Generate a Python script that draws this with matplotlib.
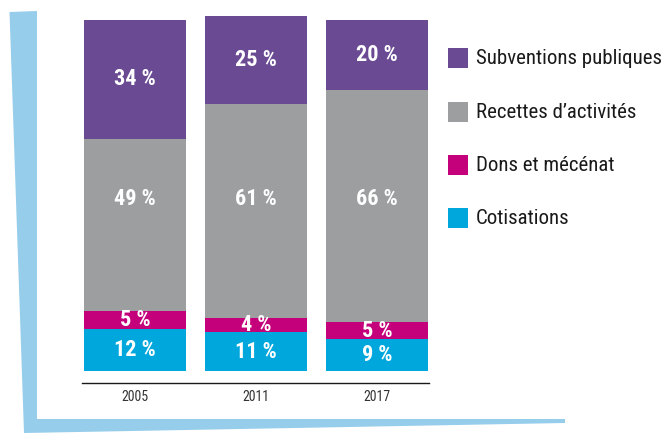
import matplotlib.pyplot as plt
from matplotlib.patches import Polygon, Rectangle
import numpy as np

years = ["2005", "2011", "2017"]
categories = ["Cotisations", "Dons et mécénat", "Recettes d’activités", "Subventions publiques"]
cotisations = [12, 11, 9]
dons = [5, 4, 5]
recettes = [49, 61, 66]
subventions = [34, 25, 20]

colors = ["#00a7dd", "#c4007a", "#9d9ea0", "#6a4a93"]
plt.rcParams["font.family"] = ["Roboto Condensed", "Archivo Narrow", "DejaVu Sans"]

W, H = 669, 433
fig = plt.figure(figsize=(W / 100, H / 100), dpi=100)

# light blue decorative corner frame (pixel coords, y from top)
frame = [(9.5, 12), (37, 11), (37, 419), (565, 419), (565, 423), (24, 433)]
fig.add_artist(Polygon([(x / W, 1 - y / H) for x, y in frame], closed=True,
                       facecolor="#96cdeb", edgecolor="none",
                       transform=fig.transFigure))

# axes placed so that the baseline runs from x=82 to x=429 at y=383
ax = fig.add_axes([82 / W, 1 - 383 / H, (429 - 82) / W, (383 - 13) / H])
x = np.arange(len(years))
width = 102 / 121

series = [cotisations, dons, recettes, subventions]
bottom = np.zeros(len(years))
for i, (vals, col) in enumerate(zip(series, colors)):
    vals = np.array(vals, dtype=float)
    ax.bar(x, vals, width, bottom=bottom, color=col, linewidth=0)
    for xi, b, v in zip(x, bottom, vals):
        # the big grey labels sit on one common line in the original
        ly = 49 if i == 2 else b + v / 2
        ax.text(xi, ly, f"{int(v)} %", ha="center", va="center",
                color="white", fontsize=16, fontweight="bold")
    bottom += vals

ax.set_xlim(-width / 2 - 2 / 121, 2 + width / 2 + 1 / 121)
ax.set_ylim(-12 / 3.53, 100 + 5 / 3.53 + 0.5)
for s in ["top", "left", "right"]:
    ax.spines[s].set_visible(False)
ax.spines["bottom"].set_linewidth(1.0)
ax.spines["bottom"].set_color("#1a1a1a")
ax.set_yticks([])
ax.set_xticks(x)
ax.set_xticklabels(years, fontsize=10, color="#333333")
ax.tick_params(axis="x", length=0, pad=5)

# legend (top to bottom)
rows_y = [58, 112, 165, 218]
for yy, cat, col in zip(rows_y, categories[::-1], colors[::-1]):
    fig.add_artist(Rectangle((448 / W, 1 - (yy + 10) / H), 20 / W, 20 / H,
                             facecolor=col, edgecolor="none",
                             transform=fig.transFigure))
    fig.text(476 / W, 1 - yy / H, cat, ha="left", va="center",
             fontsize=15, color="#1a1a1a")

fig.savefig("out.png", dpi=100)
